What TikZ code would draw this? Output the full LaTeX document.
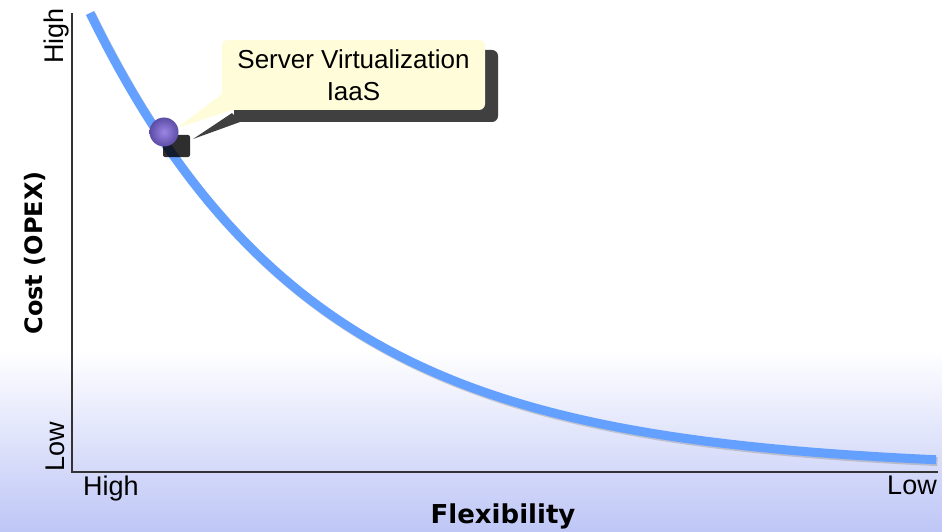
\documentclass[tikz,border=0pt]{standalone}
\usepackage{fontspec}
\setmainfont{Liberation Sans}
\newfontfamily\dejavu{DejaVu Sans}
\definecolor{boxfill}{HTML}{FFFCD9}
\definecolor{shadowgray}{HTML}{404040}
\definecolor{curveblue}{HTML}{64A0FF}
\definecolor{axisgray}{HTML}{333333}
\definecolor{bgblue}{HTML}{BEC6F6}
\definecolor{ballin}{HTML}{9C86E4}
\definecolor{ballout}{HTML}{5C4DA6}
\tikzset{
  axlab/.style={font=\fontsize{27}{30}\selectfont, inner sep=0pt},
  titlelab/.style={font=\dejavu\bfseries\fontsize{24}{28}\selectfont, inner sep=0pt},
  callbox/.style={fill=boxfill, rounded corners=6pt, minimum width=263pt, minimum height=70pt,
    inner sep=0pt, align=center, font=\fontsize{26}{32}\selectfont},
  ballnode/.style={circle, minimum size=29pt, inner sep=0pt, shading=radial, inner color=ballin, outer color=ballout},
  axisline/.style={draw=axisgray, line width=1.4pt},
  curveline/.style={line width=9pt, draw=curveblue}
}
\begin{document}
\begin{tikzpicture}[x=1pt,y=-1pt]
\useasboundingbox (0,0) rectangle (942,532);
\fill[white] (0,0) rectangle (942,532);
\shade[top color=white, bottom color=bgblue] (0,350) rectangle (942,532);
% axes
\coordinate (ytop) at (72,13);
\coordinate (O) at (72,472);
\coordinate (xend) at (938,472);
\draw[axisline] (ytop) -- (O) -- (xend);
% curve
\draw[line width=9pt, draw=black!50, opacity=0.35, shift={(1.5,1.8)}]
  plot[domain=90:936, samples=150] (\x,{470-457*exp(-0.00448*(\x-90))});
\draw[curveline]
  plot[domain=90:936, samples=150] (\x,{470-457*exp(-0.00448*(\x-90))});
% shadows
\fill[shadowgray, rounded corners=6pt] (234,50) rectangle (498,122);
\fill[shadowgray] (193,139) -- (232,113) -- (240,122) -- cycle;
\fill[black, opacity=0.82, rounded corners=2pt] (163,135) rectangle (190,157);
% box
\node[callbox] (box) at (353.5,75) {Server Virtualization\\IaaS};
\coordinate (ptc) at (164,132);
\fill[boxfill] ([shift={(13,-4)}]ptc) -- ([yshift=16pt]box.south west) -- ([xshift=10pt]box.south west) -- cycle;
\node[ballnode] (pt) at (ptc) {};
% labels
\node[axlab, rotate=90, anchor=base] (yhigh) at (63,36) {High};
\node[axlab, rotate=90, anchor=base] (ylow) at (64,447) {Low};
\node[axlab, anchor=base] (xhigh) at (111,495) {High};
\node[axlab, anchor=base] (xlow) at (912,494) {Low};
\node[titlelab, rotate=90, anchor=base] (ylab) at (42,253) {Cost (OPEX)};
\node[titlelab, font=\dejavu\bfseries\fontsize{26}{30}\selectfont, anchor=base] (xlab) at (503,523) {Flexibility};
\end{tikzpicture}
\end{document}
